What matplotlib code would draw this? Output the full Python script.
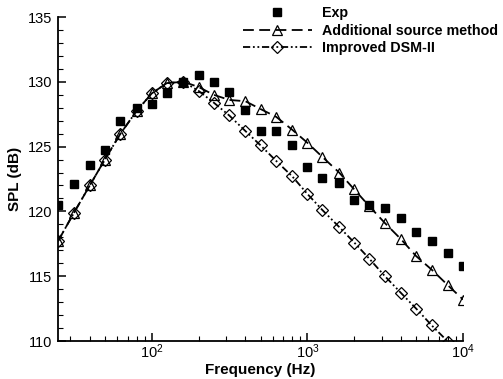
import numpy as np
import matplotlib
matplotlib.use("Agg")
import matplotlib.pyplot as plt
from matplotlib.ticker import LogLocator, MultipleLocator, NullFormatter

plt.rcParams['font.family'] = ['Liberation Sans', 'DejaVu Sans']

# 1/3 octave band centre frequencies (Hz)
freq = [25, 31.5, 40, 50, 63, 80, 100, 125, 160, 200, 250, 315, 400, 500,
        630, 800, 1000, 1250, 1600, 2000, 2500, 3150, 4000, 5000, 6300, 8000, 10000]

# measured spectrum
spl_exp = [120.5, 122.1, 123.6, 124.7, 127.0, 128.0, 128.3, 129.1, 130.0, 130.5,
           130.0, 129.2, 127.8, 126.2, 126.2, 125.1, 123.4, 122.6, 122.2, 120.9,
           120.5, 120.3, 119.5, 118.4, 117.7, 116.8, 115.8]

# additional source method
spl_asm = [117.7, 119.85, 122.0, 124.0, 126.0, 127.75, 129.1, 129.9, 130.0, 129.6,
           129.0, 128.6, 128.5, 127.9, 127.3, 126.3, 125.3, 124.2, 123.0, 121.7,
           120.4, 119.1, 117.85, 116.55, 115.5, 114.3, 113.2]

# improved DSM-II
spl_dsm = [117.7, 119.85, 122.0, 124.0, 126.0, 127.75, 129.1, 129.9, 130.0, 129.3,
           128.4, 127.4, 126.2, 125.1, 123.9, 122.7, 121.35, 120.1, 118.8, 117.6,
           116.35, 115.0, 113.7, 112.5, 111.2, 109.95, 108.6]

fig = plt.figure(figsize=(5.03, 3.79), dpi=100)
ax = fig.add_axes([58/503, 1 - 341/379, (463 - 58)/503, (341 - 17)/379])

ax.plot(freq, spl_exp, linestyle='none', marker='s', ms=5.8, color='black',
        label='Exp')
l1, = ax.plot(freq, spl_asm, color='black', lw=1.3, marker='^', ms=7,
              mfc='none', mec='black', mew=0.9, label='Additional source method')
l1.set_dashes([6, 3])
l2, = ax.plot(freq, spl_dsm, color='black', lw=1.3, marker='D', ms=5.8,
              mfc='none', mec='black', mew=0.9, label='Improved DSM-II')
l2.set_dashes([4, 1.5, 1, 1.5, 1, 1.5])

ax.set_xscale('log')
ax.set_xlim(25, 10000)
ax.set_ylim(110, 135)

ax.spines['top'].set_visible(False)
ax.spines['right'].set_visible(False)
for s in ['left', 'bottom']:
    ax.spines[s].set_linewidth(1.3)

ax.yaxis.set_major_locator(MultipleLocator(5))
ax.yaxis.set_minor_locator(MultipleLocator(1))
ax.xaxis.set_major_locator(LogLocator(base=10, numticks=10))
ax.xaxis.set_minor_locator(LogLocator(base=10, subs=np.arange(2, 10), numticks=20))
ax.xaxis.set_minor_formatter(NullFormatter())

ax.tick_params(which='major', direction='in', length=6, width=1.1,
               labelsize=10.5)
ax.tick_params(which='minor', direction='in', length=3.5, width=0.8)
ax.tick_params(axis='y', which='both', left=True, right=False, pad=4)
ax.tick_params(axis='x', which='both', bottom=True, top=False, pad=1)

ax.set_xlabel('Frequency (Hz)', fontsize=11, fontweight='bold', labelpad=1.5)
ax.set_ylabel('SPL (dB)', fontsize=11, fontweight='bold', labelpad=4)

fig.legend(loc='upper left', bbox_to_anchor=(243/503, 1 - 6/379),
           frameon=False, prop={'weight': 'bold', 'size': 10.3},
           handlelength=4.8, handletextpad=0.7, labelspacing=0.25,
           borderpad=0, borderaxespad=0, numpoints=1)

fig.savefig('out.png', dpi=100)
